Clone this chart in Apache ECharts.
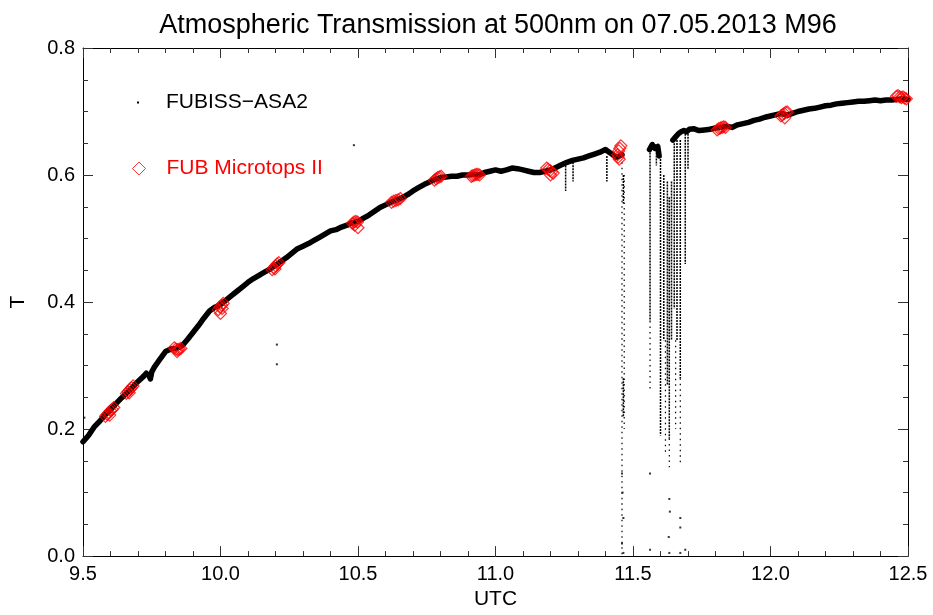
<!DOCTYPE html>
<html>
<head>
<meta charset="utf-8">
<script src="https://cdn.jsdelivr.net/npm/echarts@6/dist/echarts.min.js"></script>
<style>
  html, body { margin: 0; padding: 0; background: #fff; }
  #chart { width: 933px; height: 615px; }
</style>
</head>
<body>
<div id="chart"></div>
<script>
'use strict';

// FUBISS-ASA2 main trace (UTC, T); '-' breaks the line at the cloud gap
const asaTime = [
  9.50, 9.52, 9.54, 9.56, 9.58, 9.60, 9.62, 9.64, 9.66, 9.68, 9.70, 9.72, 9.73, 9.74, 9.745, 9.75,
  9.76, 9.78, 9.80, 9.82, 9.84, 9.86, 9.88, 9.90, 9.92, 9.94, 9.96, 9.98, 10.00, 10.02, 10.04,
  10.06, 10.08, 10.10, 10.12, 10.14, 10.16, 10.18, 10.20, 10.22, 10.24, 10.26, 10.28, 10.30,
  10.32, 10.34, 10.36, 10.38, 10.40, 10.42, 10.44, 10.46, 10.48, 10.50, 10.52, 10.54, 10.56,
  10.58, 10.60, 10.62, 10.64, 10.66, 10.68, 10.70, 10.72, 10.74, 10.76, 10.78, 10.80, 10.82,
  10.84, 10.86, 10.88, 10.90, 10.92, 10.94, 10.96, 10.98, 11.00, 11.02, 11.04, 11.06, 11.08,
  11.10, 11.12, 11.14, 11.16, 11.18, 11.20, 11.22, 11.24, 11.26, 11.28, 11.30, 11.32, 11.34,
  11.36, 11.38, 11.40, 11.42, 11.44, 11.46,
  11.50,
  11.56, 11.57, 11.58, 11.59, 11.595,
  11.62,
  11.645, 11.655, 11.665, 11.675, 11.685, 11.695, 11.705, 11.72, 11.74, 11.76, 11.78, 11.80,
  11.82, 11.84, 11.86, 11.88, 11.90, 11.92, 11.94, 11.96, 11.98, 12.00, 12.02, 12.04, 12.06,
  12.08, 12.10, 12.12, 12.14, 12.16, 12.18, 12.20, 12.22, 12.24, 12.26, 12.28, 12.30, 12.32,
  12.34, 12.36, 12.38, 12.40, 12.42, 12.44, 12.46, 12.48, 12.50
];
const asaT = [
  0.180, 0.190, 0.203, 0.212, 0.222, 0.230, 0.240, 0.249, 0.257, 0.266, 0.275, 0.283, 0.288, 0.284, 0.279, 0.290,
  0.298, 0.310, 0.322, 0.326, 0.327, 0.331, 0.341, 0.352, 0.363, 0.375, 0.386, 0.392, 0.396, 0.403, 0.410,
  0.417, 0.424, 0.431, 0.437, 0.442, 0.447, 0.452, 0.458, 0.464, 0.470, 0.477, 0.484, 0.488,
  0.492, 0.497, 0.502, 0.507, 0.512, 0.514, 0.518, 0.521, 0.525, 0.527, 0.532, 0.537, 0.543,
  0.549, 0.553, 0.557, 0.561, 0.564, 0.569, 0.575, 0.580, 0.585, 0.589, 0.593, 0.596, 0.597,
  0.598, 0.598, 0.600, 0.600, 0.601, 0.600, 0.604, 0.606, 0.608, 0.606, 0.608, 0.611, 0.610,
  0.608, 0.606, 0.604, 0.604, 0.606, 0.608, 0.612, 0.616, 0.620, 0.623, 0.625, 0.627, 0.630,
  0.633, 0.636, 0.640, 0.634, 0.628, 0.632,
  '-',
  0.640, 0.648, 0.642, 0.645, 0.630,
  '-',
  0.655, 0.660, 0.665, 0.668, 0.670, 0.668, 0.672, 0.673, 0.670, 0.671, 0.672, 0.674,
  0.675, 0.677, 0.675, 0.679, 0.681, 0.683, 0.686, 0.688, 0.691, 0.693, 0.695, 0.697, 0.694,
  0.697, 0.700, 0.702, 0.704, 0.705, 0.707, 0.709, 0.710, 0.712, 0.713, 0.714, 0.715, 0.716,
  0.716, 0.717, 0.718, 0.717, 0.718, 0.718, 0.719, 0.720, 0.719
];

// dense dropouts (cloud passages): time, top and bottom of each streak
const dropTime   = [11.255, 11.282, 11.405, 11.465, 11.465, 11.562, 11.585, 11.600, 11.612, 11.625, 11.632, 11.640, 11.650, 11.660, 11.672, 11.690, 11.700];
const dropTop    = [0.615, 0.620, 0.630, 0.600, 0.280, 0.645, 0.640, 0.630, 0.600, 0.590, 0.565, 0.590, 0.650, 0.655, 0.655, 0.665, 0.665];
const dropBottom = [0.575, 0.590, 0.590, 0.555, 0.220, 0.370, 0.615, 0.190, 0.340, 0.270, 0.185, 0.340, 0.390, 0.340, 0.280, 0.460, 0.610];

// sparse dotted streaks
const sparseTime   = [11.460, 11.468, 11.562, 11.632, 11.672, 11.655, 11.618];
const sparseTop    = [0.620, 0.600, 0.370, 0.185, 0.280, 0.340, 0.340];
const sparseBottom = [0.000, 0.200, 0.260, 0.140, 0.145, 0.200, 0.160];

// isolated ASA2 samples
const strayTime = [9.505, 10.205, 10.205, 10.485, 11.460, 11.462, 11.465, 11.460, 11.465, 11.562, 11.562, 11.632, 11.634, 11.630, 11.632, 11.672, 11.672, 11.672, 11.690];
const strayT    = [0.218, 0.333, 0.302, 0.647, 0.130, 0.100, 0.060, 0.020, 0.005, 0.130, 0.010, 0.090, 0.070, 0.030, 0.005, 0.060, 0.045, 0.005, 0.010];

// FUB Microtops II measurements (several readings per session)
const mtpTime = [
  9.582, 9.588, 9.594, 9.600, 9.606, 9.612, 9.597,
  9.658, 9.664, 9.670, 9.676, 9.682, 9.668,
  9.832, 9.838, 9.844, 9.850, 9.856, 9.842,
  9.992, 9.998, 10.004, 10.010, 10.000, 10.006,
  10.188, 10.194, 10.200, 10.206, 10.212, 10.198,
  10.480, 10.486, 10.492, 10.498, 10.500, 10.488,
  10.622, 10.630, 10.638, 10.646, 10.654,
  10.778, 10.784, 10.790, 10.796, 10.802,
  10.912, 10.918, 10.924, 10.930, 10.936, 10.942,
  11.186, 11.192, 11.198, 11.204, 11.210, 11.200,
  11.444, 11.448, 11.452, 11.456, 11.450, 11.446,
  11.806, 11.812, 11.818, 11.824, 11.830, 11.836,
  12.038, 12.044, 12.050, 12.056, 12.062, 12.052,
  12.458, 12.464, 12.470, 12.476, 12.482, 12.488, 12.494
];
const mtpT = [
  0.220, 0.223, 0.226, 0.229, 0.231, 0.234, 0.222,
  0.256, 0.259, 0.262, 0.265, 0.268, 0.257,
  0.328, 0.326, 0.325, 0.326, 0.327, 0.322,
  0.388, 0.392, 0.395, 0.398, 0.382, 0.390,
  0.451, 0.454, 0.457, 0.460, 0.462, 0.452,
  0.524, 0.526, 0.527, 0.526, 0.517, 0.521,
  0.557, 0.559, 0.560, 0.561, 0.563,
  0.592, 0.594, 0.596, 0.597, 0.598,
  0.598, 0.599, 0.600, 0.601, 0.601, 0.600,
  0.611, 0.609, 0.607, 0.605, 0.603, 0.600,
  0.632, 0.638, 0.642, 0.646, 0.625, 0.628,
  0.671, 0.673, 0.674, 0.675, 0.676, 0.675,
  0.693, 0.695, 0.697, 0.699, 0.699, 0.690,
  0.724, 0.725, 0.723, 0.722, 0.723, 0.721, 0.720
];

const xTicks = { min: 9.5, max: 12.5, step: 0.5 };
const yTicks = { min: 0.0, max: 0.8, step: 0.2 };

const ASA = 'FUBISS\u2212ASA2';
const MTP = 'FUB Microtops II';
const FONT = '"Liberation Sans", Arial, sans-serif';

const zip = (xs, ys) => xs.map((x, i) => [x, ys[i]]);
const streaks = (xs, top, bot) => {
  const out = [];
  xs.forEach((x, i) => { out.push([x, top[i]], [x, bot[i]], [x, '-']); });
  return out;
};

const axisCommon = {
  axisLine: { onZero: false, lineStyle: { color: '#000', width: 1 } },
  axisTick: { inside: true, length: 10, lineStyle: { color: '#333' } },
  minorTick: { show: true, length: 5, lineStyle: { color: '#333' } },
  splitLine: { show: false },
  minorSplitLine: { show: false }
};

const chart = echarts.init(document.getElementById('chart'), null, { renderer: 'canvas' });
chart.setOption({
  animation: false,
  backgroundColor: '#fff',
  textStyle: { fontFamily: FONT },
  title: {
    text: 'Atmospheric Transmission at 500nm on 07.05.2013 M96',
    left: 493, top: 7, textAlign: 'center',
    textStyle: { fontFamily: FONT, fontSize: 27, fontWeight: 'normal', color: '#000' }
  },
  legend: [
    {
      data: [{ name: ASA, icon: 'rect' }],
      left: 137, top: 92, padding: 0,
      itemWidth: 2, itemHeight: 2,
      itemStyle: { color: '#000' },
      selectedMode: false,
      textStyle: { fontFamily: FONT, fontSize: 21, color: '#000', padding: [0, 0, 0, 22] }
    },
    {
      data: [{ name: MTP, icon: 'diamond' }],
      left: 132, top: 158, padding: 0,
      itemWidth: 13, itemHeight: 13,
      itemStyle: { color: 'rgba(0,0,0,0)', borderColor: '#ff0000', borderWidth: 1 },
      selectedMode: false,
      textStyle: { fontFamily: FONT, fontSize: 21, color: '#ff0000', padding: [0, 0, 0, 16] }
    }
  ],
  grid: { left: 83, right: 25, top: 48, bottom: 53, containLabel: false },
  xAxis: [
    Object.assign({}, axisCommon, {
      type: 'value', position: 'bottom',
      min: xTicks.min, max: xTicks.max, interval: xTicks.step,
      minorTick: Object.assign({}, axisCommon.minorTick, { splitNumber: 5 }),
      name: 'UTC', nameLocation: 'middle', nameGap: 30,
      nameTextStyle: { fontFamily: FONT, fontSize: 21, color: '#000' },
      axisLabel: { fontFamily: FONT, fontSize: 20, color: '#000', margin: 8, formatter: v => v.toFixed(1) }
    }),
    Object.assign({}, axisCommon, {
      type: 'value', position: 'top',
      min: xTicks.min, max: xTicks.max, interval: xTicks.step,
      minorTick: Object.assign({}, axisCommon.minorTick, { splitNumber: 5 }),
      axisLabel: { show: false }
    })
  ],
  yAxis: [
    Object.assign({}, axisCommon, {
      type: 'value', position: 'left',
      min: yTicks.min, max: yTicks.max, interval: yTicks.step,
      minorTick: Object.assign({}, axisCommon.minorTick, { splitNumber: 4 }),
      name: 'T', nameLocation: 'middle', nameGap: 54, nameRotate: 90,
      nameTextStyle: { fontFamily: FONT, fontSize: 21, color: '#000' },
      axisLabel: { fontFamily: FONT, fontSize: 20, color: '#000', margin: 8, formatter: v => v.toFixed(1) }
    }),
    Object.assign({}, axisCommon, {
      type: 'value', position: 'right',
      min: yTicks.min, max: yTicks.max, interval: yTicks.step,
      minorTick: Object.assign({}, axisCommon.minorTick, { splitNumber: 4 }),
      axisLabel: { show: false }
    })
  ],
  series: [
    {
      name: ASA, type: 'line', data: zip(asaTime, asaT),
      showSymbol: false, symbol: 'none', connectNulls: false,
      lineStyle: { color: '#000', width: 5.5, join: 'round', cap: 'round' },
      itemStyle: { color: '#000' }, z: 2
    },
    {
      name: ASA, type: 'line', data: streaks(dropTime, dropTop, dropBottom),
      showSymbol: false, symbol: 'none', connectNulls: false,
      lineStyle: { color: '#000', width: 1.5, type: [2, 1] }, z: 2
    },
    {
      name: ASA, type: 'line', data: streaks(sparseTime, sparseTop, sparseBottom),
      showSymbol: false, symbol: 'none', connectNulls: false,
      lineStyle: { color: '#000', width: 1.2, type: [1.5, 4] }, z: 2
    },
    {
      name: ASA, type: 'scatter', data: zip(strayTime, strayT),
      symbol: 'rect', symbolSize: 2, itemStyle: { color: '#000' }, z: 2
    },
    {
      name: MTP, type: 'scatter', data: zip(mtpTime, mtpT),
      symbol: 'diamond', symbolSize: 12,
      itemStyle: { color: 'rgba(0,0,0,0)', borderColor: '#ff0000', borderWidth: 1.2 },
      z: 5
    }
  ]
});
</script>
</body>
</html>
